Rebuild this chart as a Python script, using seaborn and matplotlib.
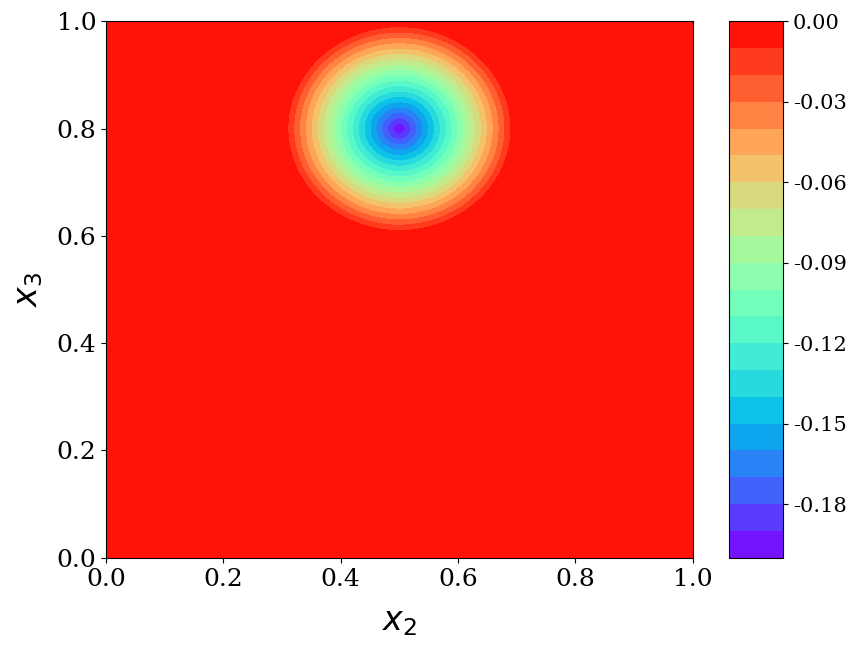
import numpy as np
import matplotlib
matplotlib.use('Agg')
import matplotlib.pyplot as plt
import seaborn as sns

# bump parameters
center_x2 = 0.5
center_x3 = 0.8
bump_radius = 0.2
levels = np.round(np.arange(-0.20, 0.001, 0.01), 2)
cbar_ticks = [0.0, -0.03, -0.06, -0.09, -0.12, -0.15, -0.18]
axis_ticks = [0.0, 0.2, 0.4, 0.6, 0.8, 1.0]

# grid + field (clipped distance to circle)
x2 = np.linspace(0, 1, 501)
x3 = np.linspace(0, 1, 501)
X2, X3 = np.meshgrid(x2, x3)
dist = np.sqrt((X2 - center_x2)**2 + (X3 - center_x3)**2)
phi = np.minimum(0.0, dist - bump_radius)

sns.set_style('ticks')
plt.rcParams['font.family'] = ['DejaVu Serif']
plt.rcParams['mathtext.fontset'] = 'dejavusans'
plt.rcParams['text.color'] = 'black'
plt.rcParams['axes.labelcolor'] = 'black'
plt.rcParams['xtick.color'] = 'black'
plt.rcParams['ytick.color'] = 'black'

fig = plt.figure(figsize=(8.59, 6.48), dpi=100)
ax = fig.add_axes([106/859, 1 - 557.8/648, 586.7/859, 536.5/648])
cax = fig.add_axes([729.3/859, 1 - 557.8/648, 54/859, 536.5/648])

cs = ax.contourf(X2, X3, phi, levels=levels, cmap='rainbow')
ax.set_xlim(0, 1)
ax.set_ylim(0, 1)
ax.set_xticks(axis_ticks)
ax.set_yticks(axis_ticks)
ax.tick_params(labelsize=18, length=3.5, width=0.8, color='black')
for s in ax.spines.values():
    s.set_color('black')
    s.set_linewidth(0.8)
ax.set_xlabel('$x_2$', fontsize=24, labelpad=11)
ax.set_ylabel('$x_3$', fontsize=24, labelpad=8)

cbar = fig.colorbar(cs, cax=cax, ticks=cbar_ticks, format='%.2f')
cbar.ax.tick_params(labelsize=15, length=3.5, width=0.8, color='black')
cbar.outline.set_edgecolor('black')
cbar.outline.set_linewidth(0.8)

fig.savefig('out.png', dpi=100)
